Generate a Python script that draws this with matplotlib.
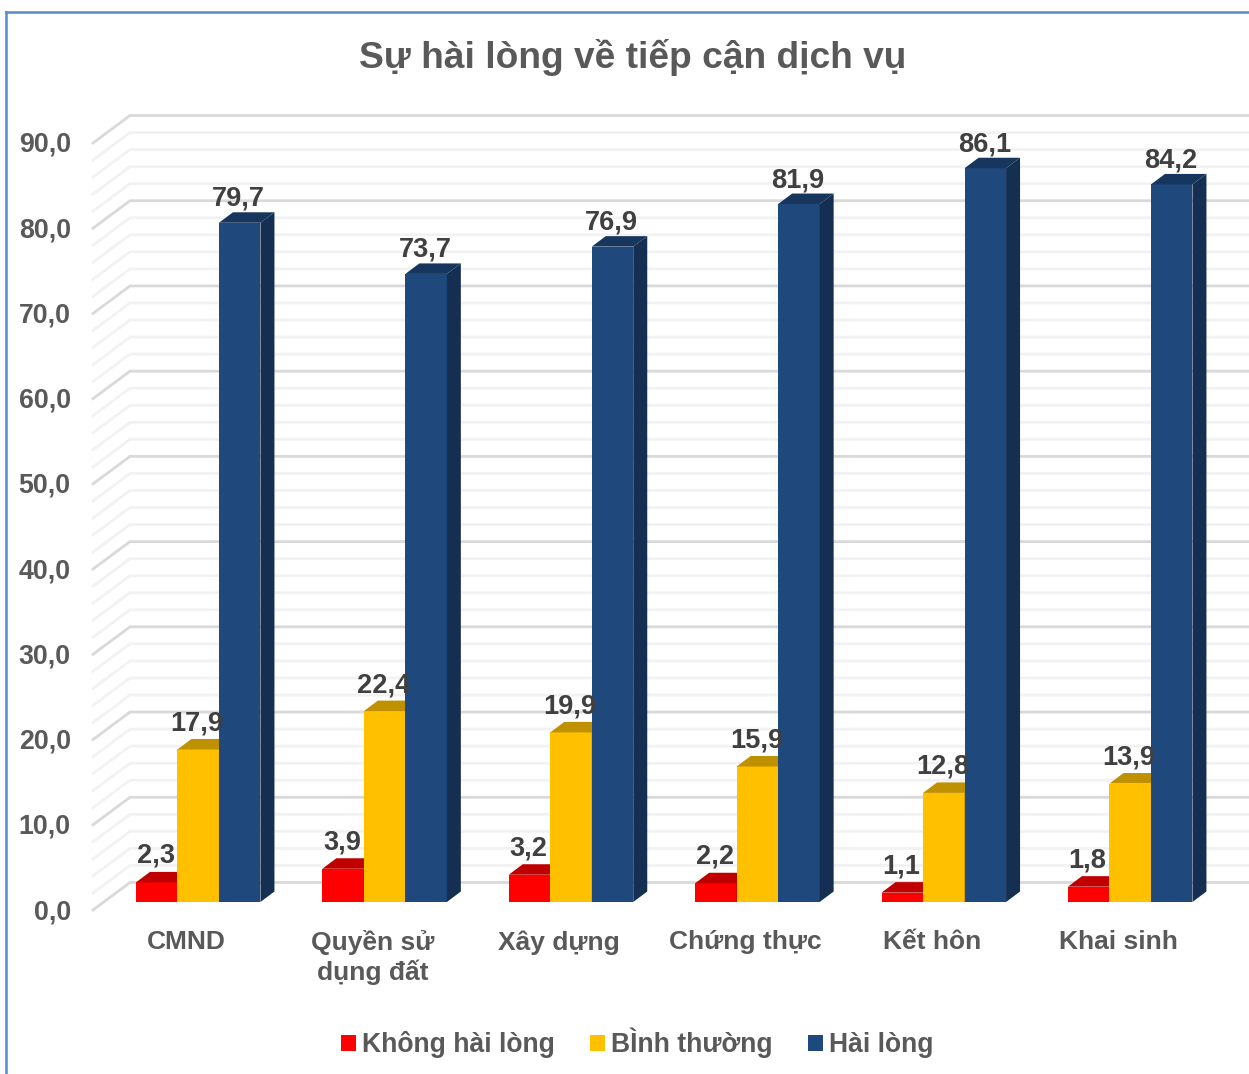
import matplotlib
matplotlib.use('Agg')
import matplotlib.pyplot as plt
from matplotlib.lines import Line2D
from matplotlib.patches import Polygon
from matplotlib.transforms import ScaledTranslation

plt.rcParams['font.family'] = ['Liberation Sans', 'DejaVu Sans']

categories = ['CMND', 'Quyền sử\ndụng đất', 'Xây dựng', 'Chứng thực', 'Kết hôn', 'Khai sinh']
khong_hai_long = [2.3, 3.9, 3.2, 2.2, 1.1, 1.8]
binh_thuong = [17.9, 22.4, 19.9, 15.9, 12.8, 13.9]
hai_long = [79.7, 73.7, 76.9, 81.9, 86.1, 84.2]
series_names = ['Không hài lòng', 'BÌnh thường', 'Hài lòng']
front_colors = ['#FF0000', '#FFC000', '#1F497D']
top_colors = ['#C00000', '#BF9000', '#17365D']
side_colors = ['#A00000', '#A07800', '#152F52']

W, H = 1249, 1074
fig = plt.figure(figsize=(W / 100, H / 100), dpi=100)
ax = fig.add_axes([93 / W, 1 - 910 / H, (1211.4 - 93) / W, (910 - 143) / H])
ax.set_xlim(-0.5, 5.5)
ax.set_ylim(0, 90)

# pixel sizes turned into data units
px_x = 6 / (1211.4 - 93)
px_y = 90 / (910 - 143)
bar_w = 41.5 * px_x
bar_dx = 14 * px_x
bar_dy = 10.5 * px_y
shift_x = 12 * px_x
lift = 8 * px_y

# back wall and side wall gridlines
wall_dx = 37 * px_x
wall_dy = 27.5 * px_y
for v in range(0, 91, 2):
    major = v % 10 == 0
    ax.plot([-0.5, -0.5 + wall_dx, 5.5 + wall_dx], [v, v + wall_dy, v + wall_dy],
            color='#D9D9D9' if major else '#F2F2F2', lw=2.0, clip_on=False, zorder=1,
            solid_joinstyle='miter')

# 3D looking bars, one series after the other
label_gaps = [16, 15.5, 13.5]
for j, values in enumerate([khong_hai_long, binh_thuong, hai_long]):
    xs = [i + shift_x + (j - 1) * bar_w for i in range(len(categories))]
    ax.bar(xs, values, bar_w, bottom=lift, color=front_colors[j], label=series_names[j],
           clip_on=False, zorder=3 + j)
    for x, v in zip(xs, values):
        l, r = x - bar_w / 2, x + bar_w / 2
        top = v + lift
        ax.add_patch(Polygon([(l, top), (r, top), (r + bar_dx, top + bar_dy), (l + bar_dx, top + bar_dy)],
                             color=top_colors[j], lw=0, clip_on=False, zorder=3 + j))
        ax.add_patch(Polygon([(r, lift), (r + bar_dx, lift + bar_dy), (r + bar_dx, top + bar_dy), (r, top)],
                             color=side_colors[j], lw=0, clip_on=False, zorder=3 + j))
        ax.text(x - 1 * px_x, top + bar_dy + label_gaps[j] * px_y, f'{v:.1f}'.replace('.', ','),
                ha='center', va='center', fontsize=19.6, fontweight='bold', color='#404040', zorder=10)

for s in ax.spines.values():
    s.set_visible(False)
ax.set_yticks(range(0, 91, 10))
ax.set_yticklabels([f'{v:.1f}'.replace('.', ',') for v in range(0, 91, 10)],
                   fontsize=19.3, fontweight='bold', color='#595959')
ax.set_xticks(range(len(categories)))
ax.set_xticklabels(categories, fontsize=19, fontweight='bold', color='#595959', linespacing=1.2)
ax.tick_params(axis='y', length=0, pad=16)
ax.tick_params(axis='x', length=0, pad=14.5)
up = ScaledTranslation(0, 1 / 100, fig.dpi_scale_trans)
for t in ax.get_yticklabels():
    t.set_transform(t.get_transform() + up)

fig.text(632.5 / W, 1 - 57 / H, 'Sự hài lòng về tiếp cận dịch vụ', ha='center', va='center',
         fontsize=26.7, fontweight='bold', color='#595959')

ax.legend(loc='center', bbox_to_anchor=(637.5 / W, 1 - 1043 / H), bbox_transform=fig.transFigure,
          ncol=3, frameon=False, prop={'size': 19.1, 'weight': 'bold'}, labelcolor='#595959',
          handlelength=0.566, handleheight=0.566, handletextpad=0.226, columnspacing=1.32)

# thin blue frame of the chart area
frame = '#5B8AC6'
fig.add_artist(Line2D([6 / W, 6 / W], [0, 1 - 12 / H], color=frame, lw=1.8))
fig.add_artist(Line2D([6 / W, 1], [1 - 12 / H, 1 - 12 / H], color=frame, lw=1.8))

fig.savefig('out.png', dpi=100)
